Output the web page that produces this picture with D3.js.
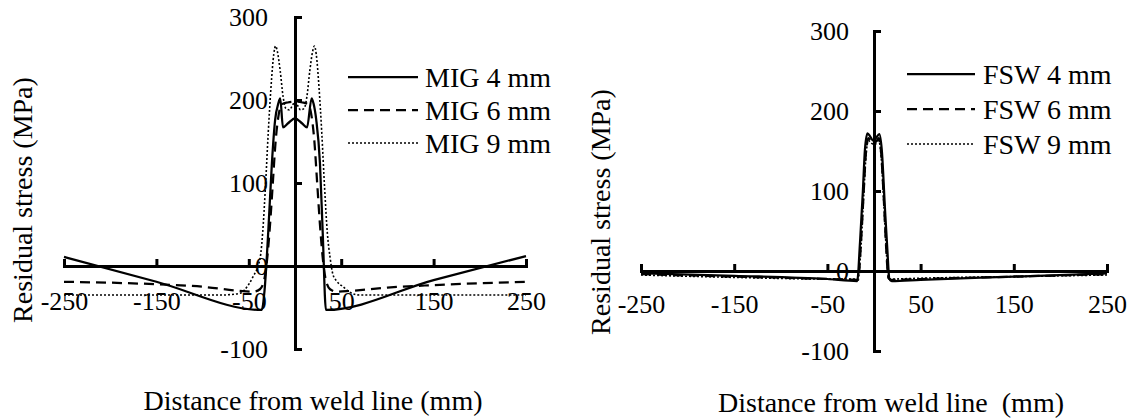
<html>
<head>
<meta charset="utf-8">
<script src="https://cdn.jsdelivr.net/npm/d3@7"></script>
<style>
  body { margin: 0; background: #fff; }
  text { font-family: "Liberation Serif", "Times New Roman", serif; fill: #000; }
</style>
</head>
<body>
<script type="text/javascript">

// tick values shared by both panels
var xTicks = [-250, -150, -50, 50, 150, 250];
var yTicks = [-100, 0, 100, 200, 300];

// MIG panel, [distance mm, stress MPa]
var mig4 = [[-250, 11], [-150, -19], [-36, -53], [-33, -30], [-29, 40], [-25, 124], [-21.5, 176], [-18, 196], [-16, 202],
  [-13, 167], [-7.5, 172], [0, 178], [7.5, 172], [13, 167], [18, 202], [20, 196], [23, 176], [27, 124], [30, 40],
  [33.5, -53], [150, -17], [250, 12]];
var mig6 = [[-250, -19], [-150, -22], [-100, -25], [-60, -30], [-45, -31], [-38, -28], [-33, -15], [-30, 10], [-27, 50],
  [-24, 100], [-21, 150], [-18, 180], [-14, 195], [-8, 197], [0, 198], [8, 197], [14, 195], [18, 180], [21, 150],
  [24, 100], [27, 50], [30, 10], [33, -15], [38, -28], [45, -31], [60, -30], [100, -26], [150, -23], [250, -19]];
var mig9 = [[-250, -35], [-150, -35], [-80, -35], [-60, -33], [-50, -22], [-45, -12], [-40, 0], [-37, 15], [-35, 40],
  [-32, 95], [-29, 160], [-26, 215], [-23, 255], [-21, 265], [-19, 258], [-16, 235], [-13, 205], [-10, 190],
  [-6, 188], [-3, 193], [0, 198], [3, 193], [6, 188], [10, 190], [13, 205], [16, 235], [19, 258], [21, 265],
  [23, 255], [26, 215], [29, 160], [32, 95], [35, 40], [38, 10], [41, -10], [45, -18], [52, -25], [60, -32],
  [70, -35], [150, -35], [250, -35]];

// FSW panel
var fsw4 = [[-250, -3], [-150, -6], [-50, -10], [-18, -12.5], [-15, 36], [-12, 98], [-9.7, 152], [-7, 172], [-4, 168],
  [-1, 163], [2, 166], [5.7, 171], [8.3, 152], [11.8, 77], [14.3, 27], [16.5, -10], [19, -12.5], [50, -11],
  [150, -7], [250, -3]];
var fsw6 = [[-250, -4], [-150, -7], [-50, -10], [-17, -11], [-14, 35], [-11, 100], [-8.5, 150], [-6, 166], [-3, 163],
  [0, 160], [3, 163], [5, 166], [7.5, 150], [10.5, 90], [13, 30], [15.5, -9], [18, -11], [50, -10], [150, -7],
  [250, -4]];
var fsw9 = [[-250, -5], [-150, -8], [-50, -10], [-17, -10], [-14, 30], [-11, 95], [-8.5, 145], [-6, 163], [-3, 160],
  [0, 158], [3, 160], [5, 163], [7.5, 145], [10.5, 85], [13, 30], [15.5, -8], [18, -10], [50, -9], [150, -7],
  [250, -5]];

var migNames = ["MIG 4 mm", "MIG 6 mm", "MIG 9 mm"];
var fswNames = ["FSW 4 mm", "FSW 6 mm", "FSW 9 mm"];

// line looks: solid, dashed, dotted
var styles = [
  { w: 2.25, dash: null },
  { w: 2.25, dash: "10,6" },
  { w: 1.6, dash: "2,2" }
];

// plain hyphen like the original, not the unicode minus
var fmt = function(d) { return String(d); };

var svg = d3.select("body").append("svg")
  .attr("width", 1137)
  .attr("height", 419);

function panel(p) {
  var x = d3.scaleLinear().domain([-250, 250]).range(p.xr);
  var y = d3.scaleLinear().domain([-100, 300]).range(p.yr);
  var g = svg.append("g");

  // x axis sits on y = 0, ticks point up, labels well below
  g.append("g")
    .attr("transform", "translate(0," + y(0) + ")")
    .call(d3.axisBottom(x).tickValues(xTicks).tickSizeInner(-7).tickSizeOuter(-7)
      .tickPadding(p.xPad).tickFormat(fmt));

  // y axis sits on x = 0, ticks point right
  g.append("g")
    .attr("transform", "translate(" + x(0) + ",0)")
    .call(d3.axisLeft(y).tickValues(yTicks).tickSizeInner(-7).tickSizeOuter(-7)
      .tickPadding(p.yPad).tickFormat(fmt));

  g.selectAll(".domain, .tick line").attr("stroke", "#000").attr("stroke-width", 3);
  g.selectAll(".tick text").attr("font-size", 26).attr("font-family", "Liberation Serif").attr("fill", "#000");

  var line = d3.line()
    .x(function(d) { return x(d[0]); })
    .y(function(d) { return y(d[1]); })
    .curve(d3.curveMonotoneX);

  p.series.forEach(function(s, i) {
    g.append("path")
      .datum(s)
      .attr("d", line)
      .attr("fill", "none")
      .attr("stroke", "#000")
      .attr("stroke-width", styles[i].w)
      .attr("stroke-dasharray", styles[i].dash);
  });

  // legend
  p.names.forEach(function(n, i) {
    var ly = p.legY[i];
    g.append("line")
      .attr("x1", p.legX[0]).attr("x2", p.legX[1])
      .attr("y1", ly).attr("y2", ly)
      .attr("stroke", "#000")
      .attr("stroke-width", styles[i].w)
      .attr("stroke-dasharray", styles[i].dash);
    g.append("text")
      .attr("x", p.legX[2]).attr("y", ly)
      .attr("dy", "0.35em")
      .attr("font-size", 28)
      .text(n);
  });

  // axis titles
  g.append("text")
    .attr("transform", "translate(" + p.yTitle[0] + "," + p.yTitle[1] + ") rotate(-90)")
    .attr("text-anchor", "middle")
    .attr("dy", "0.35em")
    .attr("font-size", 28)
    .text("Residual stress (MPa)");
  g.append("text")
    .attr("x", p.xTitle[0]).attr("y", p.xTitle[1])
    .attr("text-anchor", "middle")
    .attr("dy", "0.35em")
    .attr("font-size", 28)
    .style("white-space", "pre")
    .text(p.xLabel);
}

panel({
  xr: [64, 526], yr: [349, 17], xPad: 26, yPad: 27,
  series: [mig4, mig6, mig9], names: migNames,
  legX: [348, 418, 425], legY: [77, 110, 143],
  yTitle: [22, 200], xTitle: [313, 400],
  xLabel: "Distance from weld line (mm)"
});

panel({
  xr: [641, 1107], yr: [351, 31], xPad: 24, yPad: 25,
  series: [fsw4, fsw6, fsw9], names: fswNames,
  legX: [907, 975, 983], legY: [74, 109, 144],
  yTitle: [600, 212], xTitle: [891, 402],
  xLabel: "Distance from weld line  (mm)"
});

</script>
</body>
</html>
